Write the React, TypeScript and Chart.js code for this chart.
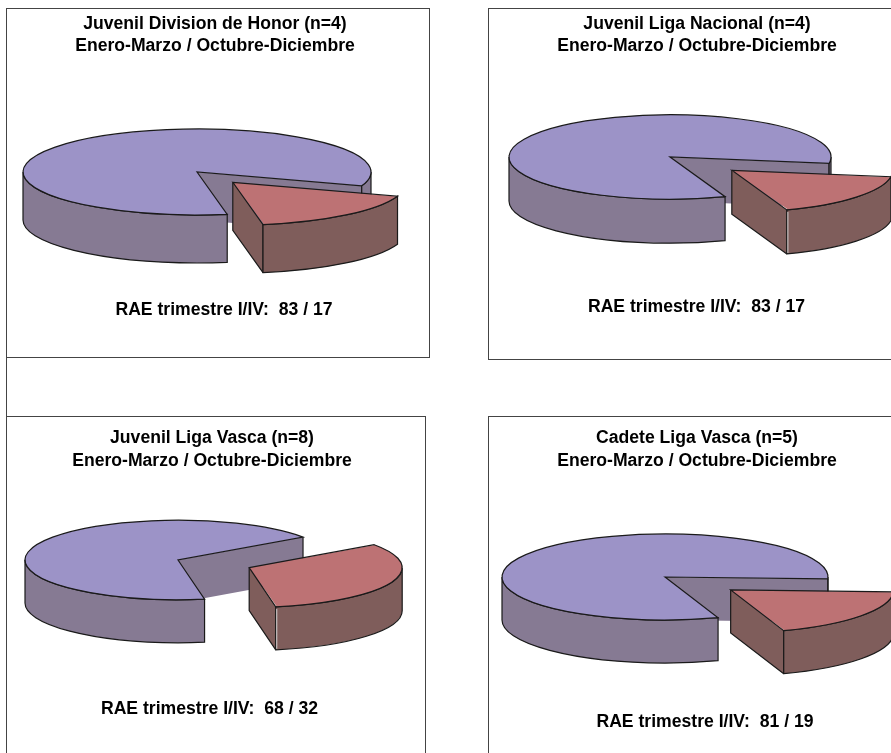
import React, { useEffect, useRef } from "react";
import { Chart, registerables } from "chart.js";

Chart.register(...registerables);

const periods = ["Enero-Marzo", "Octubre-Diciembre"];
const groups = ["Juvenil Division de Honor (n=4)", "Juvenil Liga Nacional (n=4)", "Juvenil Liga Vasca (n=8)", "Cadete Liga Vasca (n=5)"];
const firstPeriod = [83, 83, 68, 81];
const secondPeriod = [17, 17, 32, 19];
const subtitle = "Enero-Marzo / Octubre-Diciembre";

const FONT = "'Liberation Sans', Arial, sans-serif";
const FONT_SIZE = 17.6;
const TOP_COLORS = ["#9c93c7", "#bd7274"];
const WALL_COLORS = ["#867a93", "#7f5d5b"];
const INK = "#1a1a1a";
const LINE = 1.2;

const views = [
  { left: 0, top: 0, width: 430, height: 360, rotation: 170, explode: 55, pieX: 197, pieY: 172, radius: 174, tilt: 0.247, depth: 48, seam: false, noteX: 224, noteY: 310, titleLine: 22 },
  { left: 488, top: 0, width: 418, height: 360, rotation: 160, explode: 80, pieX: 182, pieY: 157, radius: 161, tilt: 0.262, depth: 44, seam: true, noteX: 208.5, noteY: 307, titleLine: 22 },
  { left: 0, top: 414, width: 424, height: 339, rotation: 170, explode: 77, pieX: 178, pieY: 146, radius: 153, tilt: 0.26, depth: 43, seam: true, noteX: 209.5, noteY: 295, titleLine: 23 },
  { left: 488, top: 414, width: 418, height: 339, rotation: 161, explode: 82, pieX: 177, pieY: 163, radius: 163, tilt: 0.264, depth: 43, seam: false, noteX: 217, noteY: 308, titleLine: 23 },
];

const boxes = [
  { left: 6, top: 8, width: 424, height: 350 },
  { left: 488, top: 8, width: 500, height: 352 },
  { left: 6, top: 416, width: 420, height: 400 },
  { left: 488, top: 416, width: 500, height: 400 },
  { left: 6, top: 357, width: 0, height: 60 },
];

const TAU = Math.PI * 2;

function geom(chart: any, arc: any, o: any) {
  const mid = (arc.startAngle + arc.endAngle) / 2;
  const shift = (arc.options.offset || 0) / 4;
  const cx = o.pieX + Math.cos(mid) * shift;
  const cy = o.pieY + Math.sin(mid) * shift * o.tilt;
  return { cx, cy, a0: arc.startAngle, a1: arc.endAngle, r: o.radius, k: o.tilt, d: o.depth };
}

function frontRanges(a0: number, a1: number) {
  const out: [number, number][] = [];
  for (let n = -2; n <= 2; n++) {
    const s = Math.max(a0, n * TAU);
    const e = Math.min(a1, n * TAU + Math.PI);
    if (e > s) out.push([s, e]);
  }
  return out;
}

function drawSlice(ctx: CanvasRenderingContext2D, g: any, color: string, seam: boolean) {
  const { cx, cy, a0, a1, r, k, d } = g;
  const px = (a: number) => cx + Math.cos(a) * r;
  const py = (a: number) => cy + Math.sin(a) * r * k;
  ctx.lineWidth = LINE;
  ctx.strokeStyle = INK;
  ctx.fillStyle = color;
  const face = (a: number) => {
    ctx.beginPath();
    ctx.moveTo(cx, cy);
    ctx.lineTo(px(a), py(a));
    ctx.lineTo(px(a), py(a) + d);
    ctx.lineTo(cx, cy + d);
    ctx.closePath();
    ctx.fill();
  };
  if (Math.sin(a1 + Math.PI / 2) > 0) {
    face(a1);
    ctx.beginPath();
    ctx.moveTo(px(a1), py(a1));
    ctx.lineTo(px(a1), py(a1) + d);
    ctx.stroke();
  }
  if (Math.sin(a0 - Math.PI / 2) > 0) face(a0);
  const hasFace = Math.sin(a1 + Math.PI / 2) > 0 && a1 - a0 < Math.PI;
  if (hasFace) {
    ctx.beginPath();
    ctx.moveTo(cx, cy);
    ctx.lineTo(cx, cy + d);
    ctx.lineTo(px(a1), py(a1) + d);
    ctx.stroke();
  }
  for (const [s, e] of frontRanges(a0, a1)) {
    ctx.beginPath();
    ctx.ellipse(cx, cy, r, r * k, 0, s, e);
    ctx.ellipse(cx, cy + d, r, r * k, 0, e, s, true);
    ctx.closePath();
    ctx.fill();
    ctx.stroke();
  }
  if (seam) {
    ctx.save();
    ctx.strokeStyle = "#d8d8d8";
    ctx.lineWidth = 1;
    ctx.beginPath();
    ctx.moveTo(px(a1) + 1, py(a1) + 2);
    ctx.lineTo(px(a1) + 1, py(a1) + d - 1);
    ctx.stroke();
    ctx.restore();
  }
}

function outlineTop(ctx: CanvasRenderingContext2D, g: any) {
  const { cx, cy, a0, a1, r, k } = g;
  ctx.lineWidth = LINE;
  ctx.strokeStyle = INK;
  ctx.beginPath();
  ctx.moveTo(cx, cy);
  ctx.ellipse(cx, cy, r, r * k, 0, a0, a1);
  ctx.closePath();
  ctx.stroke();
}

const pie3d = {
  id: "pie3d",
  afterDatasetUpdate(chart: any) {
    // Chart.js widens an exploded slice; keep it at the pie's own radius.
    const arcs = chart.getDatasetMeta(0).data;
    arcs.forEach((arc: any) => {
      const off = (arc.options.offset || 0) / 4;
      const fix = 1 - Math.sin(Math.min(Math.PI, arc.circumference || 0));
      arc.outerRadius = chart.options.radiusBase - off * fix;
    });
  },
  beforeDatasetDraw(chart: any, _args: any, o: any) {
    const ctx = chart.ctx;
    const arcs = chart.getDatasetMeta(0).data;
    arcs.forEach((arc: any, i: number) => {
      drawSlice(ctx, geom(chart, arc, o), WALL_COLORS[i], i === 1 && o.seam);
    });
    const base = arcs[0];
    ctx.save();
    ctx.translate(o.pieX, o.pieY);
    ctx.scale(1, o.tilt);
    ctx.translate(-base.x, -base.y);
  },
  afterDatasetDraw(chart: any, _args: any, o: any) {
    const ctx = chart.ctx;
    ctx.restore();
    chart.getDatasetMeta(0).data.forEach((arc: any) => outlineTop(ctx, geom(chart, arc, o)));
  },
  afterDraw(chart: any, _args: any, o: any) {
    const ctx = chart.ctx;
    ctx.save();
    ctx.font = `bold ${FONT_SIZE}px ${FONT}`;
    ctx.fillStyle = "#000";
    ctx.textAlign = "center";
    ctx.textBaseline = "middle";
    ctx.fillText(o.note, o.noteX, o.noteY);
    ctx.restore();
  },
};

function Pie({ index }: { index: number }) {
  const ref = useRef<HTMLCanvasElement>(null);
  const v = views[index];
  useEffect(() => {
    const chart = new Chart(ref.current as HTMLCanvasElement, {
      type: "pie",
      data: {
        labels: periods,
        datasets: [
          {
            data: [firstPeriod[index], secondPeriod[index]],
            backgroundColor: TOP_COLORS,
            borderWidth: 0,
            offset: [0, v.explode * 4],
            clip: false,
          } as any,
        ],
      },
      plugins: [pie3d],
      options: {
        animation: false,
        responsive: false,
        rotation: v.rotation,
        radius: v.radius,
        radiusBase: v.radius,
        layout: { padding: 0 },
        plugins: {
          legend: { display: false },
          tooltip: { enabled: false },
          title: {
            display: true,
            text: [groups[index], subtitle],
            color: "#000",
            font: { family: FONT, size: FONT_SIZE, weight: "bold", lineHeight: v.titleLine / FONT_SIZE },
            padding: { top: 13, bottom: 4 },
          },
          pie3d: {
            pieX: v.pieX,
            pieY: v.pieY,
            radius: v.radius,
            tilt: v.tilt,
            depth: v.depth,
            seam: v.seam,
            noteX: v.noteX,
            noteY: v.noteY,
            note: `RAE trimestre I/IV:  ${firstPeriod[index]} / ${secondPeriod[index]}`,
          },
        },
      } as any,
    });
    return () => chart.destroy();
  }, [index]);
  return (
    <canvas
      ref={ref}
      width={v.width}
      height={v.height}
      style={{ position: "absolute", left: v.left, top: v.top, width: v.width, height: v.height }}
    />
  );
}

export default function App() {
  return (
    <div style={{ position: "absolute", left: 0, top: 0, width: 891, height: 753, overflow: "hidden", background: "#fff" }}>
      {boxes.map((b, i) => (
        <div
          key={i}
          style={{
            position: "absolute",
            left: b.left,
            top: b.top,
            width: b.width,
            height: b.height,
            boxSizing: "border-box",
            ...(b.width === 0 ? { borderLeft: "1px solid #444" } : { border: "1px solid #444" }),
          }}
        />
      ))}
      {views.map((_, i) => (
        <Pie key={i} index={i} />
      ))}
    </div>
  );
}
